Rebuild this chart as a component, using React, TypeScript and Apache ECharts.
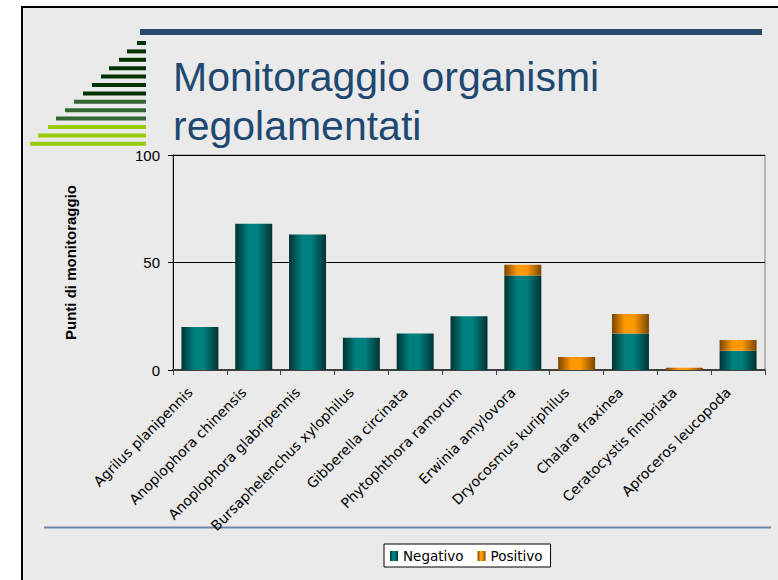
import { useEffect, useRef } from "react";
import * as echarts from "echarts";

const categories = [
  "Agrilus planipennis",
  "Anoplophora chinensis",
  "Anoplophora glabripennis",
  "Bursaphelenchus xylophilus",
  "Gibberella circinata",
  "Phytophthora ramorum",
  "Erwinia amylovora",
  "Dryocosmus kuriphilus",
  "Chalara fraxinea",
  "Ceratocystis fimbriata",
  "Aproceros leucopoda",
];
const negativo = [20, 68, 63, 15, 17, 25, 44, 0, 17, 0, 9];
const positivo = [0, 0, 0, 0, 0, 0, 5, 6, 9, 1, 5];
const seriesNames = ["Negativo", "Positivo"];
const yMin = 0;
const yMax = 100;
const yInterval = 50;
const titleLines = ["Monitoraggio organismi", "regolamentati"];
const yAxisTitle = "Punti di monitoraggio";

const stripeLefts = [137, 127, 119, 109, 101, 92, 83, 74, 65, 56, 48, 38, 30];
const stripeColors = [
  "#003300", "#003300", "#003300", "#003300", "#003300", "#003300", "#003300",
  "#336633", "#336633", "#336633",
  "#99CC00", "#99CC00", "#99CC00",
];

function grad(edge: string, mid: string) {
  return new echarts.graphic.LinearGradient(0, 0, 1, 0, [
    { offset: 0, color: edge },
    { offset: 0.35, color: mid },
    { offset: 0.6, color: mid },
    { offset: 1, color: edge },
  ]);
}

export default function App() {
  const ref = useRef<HTMLDivElement>(null);
  useEffect(() => {
    if (!ref.current) return;
    const chart = echarts.init(ref.current, undefined, { renderer: "svg" });
    const graphics: any[] = [
      {
        type: "rect",
        z: -10,
        shape: { x: 22, y: 7, width: 780, height: 600 },
        style: { fill: "#EAEAEA", stroke: "#000", lineWidth: 2 },
        silent: true,
      },
      {
        type: "rect",
        shape: { x: 140, y: 29, width: 622, height: 6 },
        style: { fill: "#27496D" },
        silent: true,
      },
      {
        type: "line",
        shape: { x1: 44, y1: 527.5, x2: 771, y2: 527.5 },
        style: { stroke: "#6A85A3", lineWidth: 2 },
        silent: true,
      },
    ];
    stripeLefts.forEach((lx, i) => {
      graphics.push({
        type: "rect",
        shape: { x: lx, y: 41 + i * 8.4, width: 146 - lx, height: 4 },
        style: { fill: stripeColors[i] },
        silent: true,
      });
    });
    titleLines.forEach((t, i) => {
      graphics.push({
        type: "text",
        x: 173,
        y: 77 + i * 49,
        style: {
          text: t,
          font: "41px 'Liberation Sans', Arial, sans-serif",
          fill: "#1F4870",
          verticalAlign: "middle",
          align: "left",
        },
        silent: true,
      });
    });

    chart.setOption({
      animation: false,
      backgroundColor: "#fff",
      graphic: graphics,
      grid: {
        left: 173,
        right: 13,
        top: 155,
        bottom: 210,
        show: true,
        borderColor: "#7F7F7F",
        borderWidth: 1,
        backgroundColor: "transparent",
      },
      legend: {
        data: seriesNames,
        left: 384,
        top: 544,
        orient: "horizontal",
        itemWidth: 8,
        itemHeight: 10,
        itemGap: 14,
        padding: [5, 8, 4, 6],
        backgroundColor: "#fff",
        borderColor: "#000",
        borderWidth: 1,
        borderRadius: 0,
        icon: "rect",
        textStyle: {
          fontFamily: "'DejaVu Sans', sans-serif",
          fontSize: 13.5,
          color: "#000",
        },
      },
      xAxis: {
        type: "category",
        data: categories,
        axisLine: { lineStyle: { color: "#404040", width: 2 } },
        axisTick: { show: true, length: 5, interval: 0, lineStyle: { color: "#404040" } },
        axisLabel: {
          interval: 0,
          rotate: 45,
          margin: 10,
          padding: [0, 14, 0, 0],
          fontFamily: "'DejaVu Sans', sans-serif",
          fontSize: 14,
          color: "#000",
        },
        splitLine: { show: false },
      },
      yAxis: {
        type: "value",
        min: yMin,
        max: yMax,
        interval: yInterval,
        name: yAxisTitle,
        nameLocation: "middle",
        nameGap: 95,
        nameTextStyle: {
          fontFamily: "'Liberation Sans', Arial, sans-serif",
          fontWeight: "bold",
          fontSize: 15,
          color: "#000",
        },
        axisLine: { show: true, lineStyle: { color: "#000", width: 1 } },
        axisTick: { show: true, length: 5, lineStyle: { color: "#000" } },
        axisLabel: {
          margin: 13,
          fontFamily: "'Liberation Sans', Arial, sans-serif",
          fontSize: 15,
          color: "#000",
        },
        splitLine: { show: true, lineStyle: { color: "#000", width: 1 } },
      },
      series: [
        {
          name: seriesNames[0],
          type: "bar",
          stack: "total",
          data: negativo,
          barWidth: 37,
          itemStyle: { color: grad("#003333", "#007F7F") },
        },
        {
          name: seriesNames[1],
          type: "bar",
          stack: "total",
          data: positivo,
          barWidth: 37,
          itemStyle: { color: grad("#7A4600", "#FF9900") },
        },
      ],
    });
    return () => chart.dispose();
  }, []);
  return (
    <div
      ref={ref}
      style={{ position: "absolute", left: 0, top: 0, width: 778, height: 580 }}
    />
  );
}
